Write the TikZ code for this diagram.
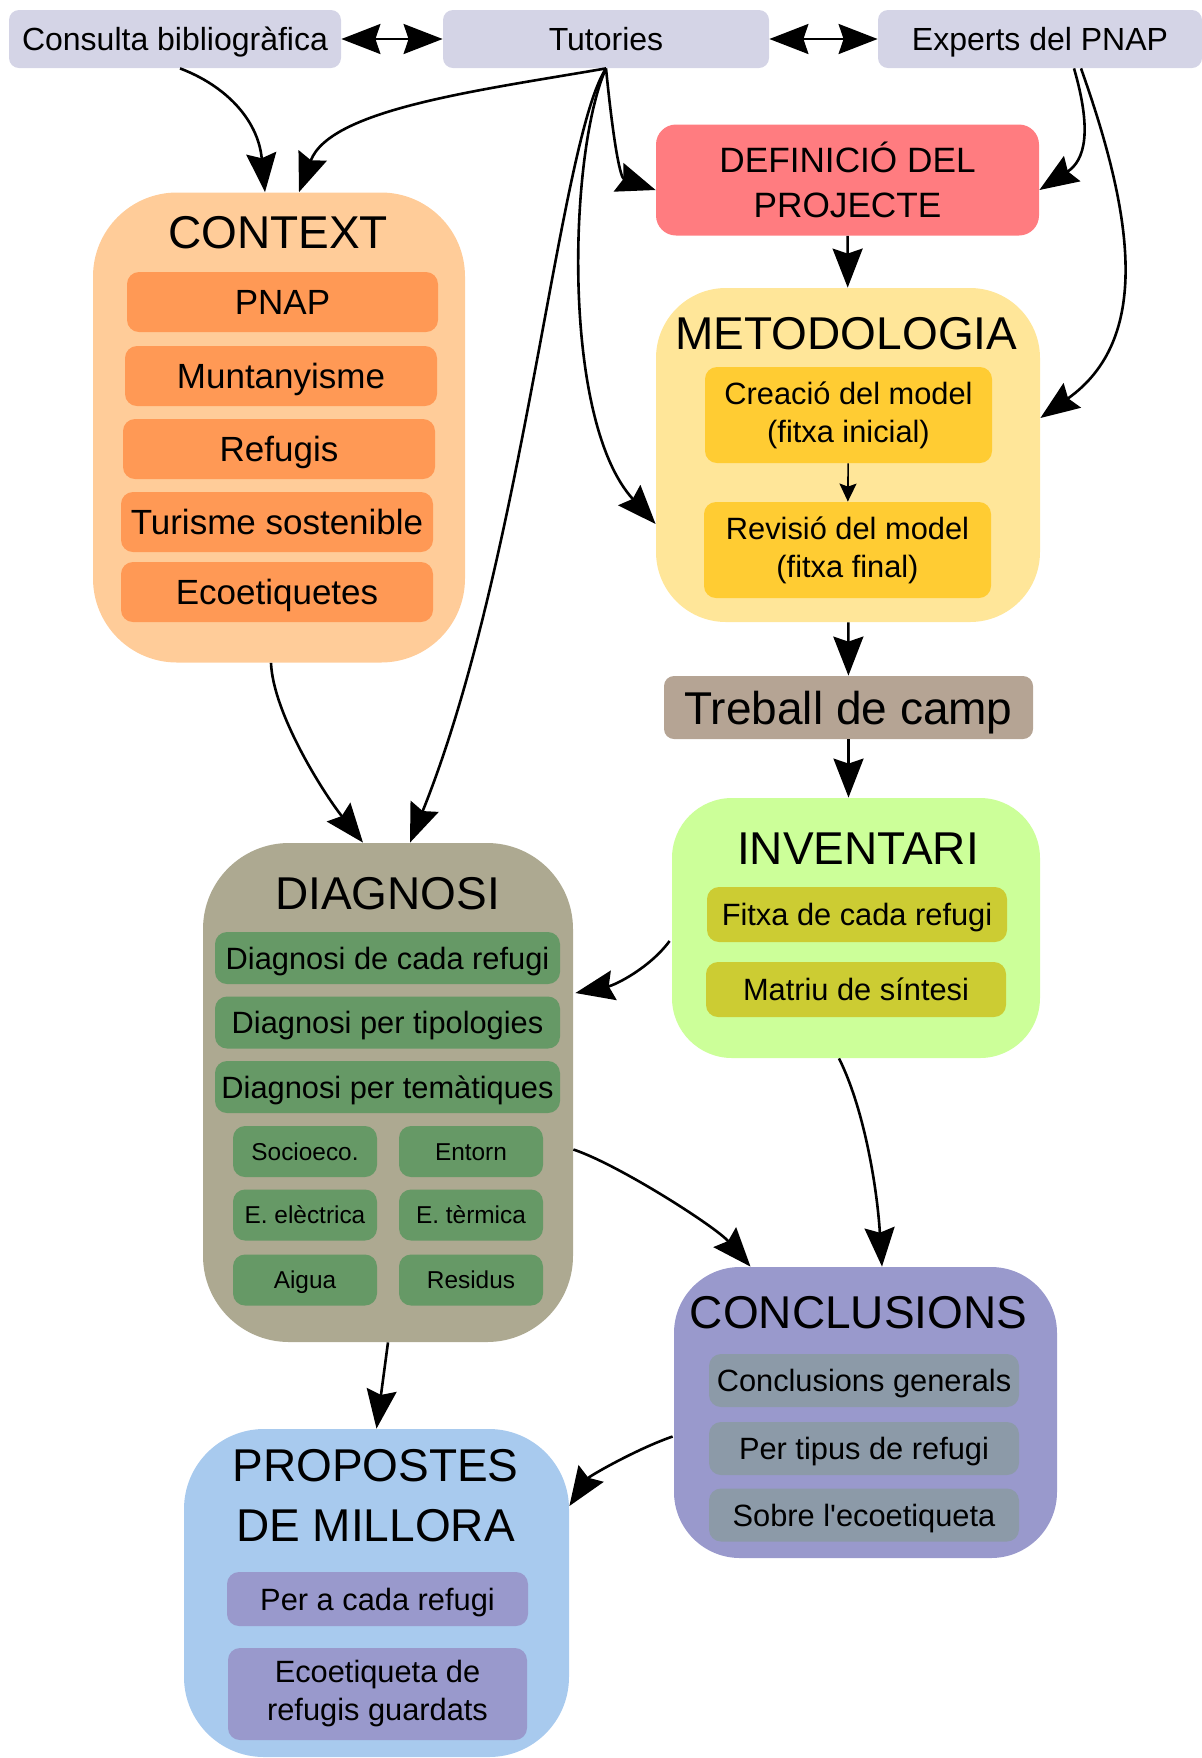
\documentclass[tikz,border=0pt]{standalone}
\usepackage{fontspec}
\setmainfont{Liberation Sans}
\usepackage{tikz}
\usetikzlibrary{arrows.meta,calc}
\usepackage{xcolor}

\definecolor{topgray}{RGB}{212,212,230}
\definecolor{defred}{RGB}{255,124,128}
\definecolor{ctxbg}{RGB}{255,204,153}
\definecolor{ctxitem}{RGB}{255,153,85}
\definecolor{metobg}{RGB}{255,230,153}
\definecolor{metoitem}{RGB}{255,204,51}
\definecolor{trebbrown}{RGB}{181,164,148}
\definecolor{invbg}{RGB}{204,255,153}
\definecolor{invitem}{RGB}{204,204,51}
\definecolor{diagbg}{RGB}{173,169,145}
\definecolor{diagitem}{RGB}{102,153,102}
\definecolor{concbg}{RGB}{153,153,204}
\definecolor{concitem}{RGB}{140,154,168}
\definecolor{propbg}{RGB}{168,202,238}
\definecolor{propitem}{RGB}{153,153,204}

\begin{document}
\begin{tikzpicture}[x=0.5pt, y=-0.5pt,
  topbox/.style={fill=topgray, rounded corners=5pt, minimum height=29pt, inner sep=1pt,
    text height=12.5pt, text depth=1pt, font=\fontsize{16}{19}\selectfont},
  groupbox/.style={inner sep=0pt},
  grouptitle/.style={anchor=base, font=\fontsize{23}{30}\selectfont},
  itembox/.style={rounded corners=6pt, inner sep=1pt, text height=12pt, text depth=1pt,
    font=\fontsize{15.4}{19}\selectfont},
  bigitembox/.style={itembox, text height=13.5pt, font=\fontsize{17.5}{21}\selectfont},
  smallitembox/.style={itembox, text height=9.5pt, text depth=0.8pt, font=\fontsize{12.2}{15}\selectfont},
  twolinebox/.style={rounded corners=6pt, inner sep=1pt, align=center, font=\fontsize{15.4}{19}\selectfont},
  flow/.style={-{Stealth[length=19.5pt,width=15pt,inset=2.5pt]}, line width=1.3pt},
  twoway/.style={{Stealth[length=19.5pt,width=15pt,inset=2.5pt]}-{Stealth[length=19.5pt,width=15pt,inset=2.5pt]}, line width=1.3pt},
  smallflow/.style={-{Stealth[length=9pt,width=8.5pt,inset=1.5pt]}, line width=0.8pt}]
  \useasboundingbox (0,0) rectangle (1202,1758);

  % Sources on top
  \node[topbox, minimum width=166pt] (cons) at (175,39) {Consulta bibliogràfica};
  \node[topbox, minimum width=163pt] (tut) at (606,39) {Tutories};
  \node[topbox, minimum width=162pt] (exp) at (1040,39) {Experts del PNAP};

  % Definició del projecte
  \node[fill=defred, rounded corners=10pt, minimum width=191.5pt, minimum height=55.5pt,
    align=center, font=\fontsize{17.6}{22.5}\selectfont] (def) at (847.5,180) {DEFINICIÓ DEL\\PROJECTE};

  % Context
  \node[groupbox, fill=ctxbg, rounded corners=42pt, minimum width=186pt, minimum height=235pt] (ctx) at (279,427.5) {};
  \node[grouptitle] (ctx-title) at (278,248) {CONTEXT};
  \node[bigitembox, fill=ctxitem, minimum width=155.5pt, minimum height=30pt] (ctx-pnap) at (282.5,302) {PNAP};
  \node[bigitembox, fill=ctxitem, minimum width=156pt, minimum height=30pt] (ctx-munt) at (281,376) {Muntanyisme};
  \node[bigitembox, fill=ctxitem, minimum width=156pt, minimum height=30pt] (ctx-ref) at (279,449) {Refugis};
  \node[bigitembox, fill=ctxitem, minimum width=156pt, minimum height=30pt] (ctx-tur) at (277,522) {Turisme sostenible};
  \node[bigitembox, fill=ctxitem, minimum width=156pt, minimum height=30pt] (ctx-eco) at (277,592) {Ecoetiquetes};

  % Metodologia
  \node[groupbox, fill=metobg, rounded corners=35pt, minimum width=192pt, minimum height=167pt] (meto) at (848,455) {};
  \node[grouptitle] (meto-title) at (846.5,349) {METODOLOGIA};
  \node[twolinebox, fill=metoitem, minimum width=143.5pt, minimum height=48pt] (crea) at (848.5,415) {Creació del model\\(fitxa inicial)};
  \node[twolinebox, fill=metoitem, minimum width=143.5pt, minimum height=48pt] (revi) at (847.5,550) {Revisió del model\\(fitxa final)};

  % Treball de camp
  \node[fill=trebbrown, rounded corners=5pt, minimum width=184.5pt, minimum height=31.5pt, inner sep=1pt,
    text height=17.5pt, text depth=1pt, font=\fontsize{23}{28}\selectfont] (treb) at (848.5,707.5) {Treball de camp};

  % Inventari
  \node[groupbox, fill=invbg, rounded corners=30pt, minimum width=184pt, minimum height=130pt] (inv) at (856,928) {};
  \node[grouptitle] (inv-title) at (858,864) {INVENTARI};
  \node[itembox, fill=invitem, minimum width=150pt, minimum height=27.5pt] (inv-fitxa) at (857,914.5) {Fitxa de cada refugi};
  \node[itembox, fill=invitem, minimum width=150pt, minimum height=27.5pt] (inv-matriu) at (856,989.5) {Matriu de síntesi};

  % Diagnosi
  \node[groupbox, fill=diagbg, rounded corners=43pt, minimum width=185pt, minimum height=249.5pt] (diag) at (388,1092.5) {};
  \node[grouptitle] (diag-title) at (387.5,909) {DIAGNOSI};
  \node[itembox, fill=diagitem, minimum width=172.5pt, minimum height=26pt] (diag-ref) at (387.5,958) {Diagnosi de cada refugi};
  \node[itembox, fill=diagitem, minimum width=172.5pt, minimum height=26pt] (diag-tip) at (387.5,1022.5) {Diagnosi per tipologies};
  \node[itembox, fill=diagitem, minimum width=172.5pt, minimum height=26pt] (diag-tem) at (387.5,1087) {Diagnosi per temàtiques};
  \node[smallitembox, fill=diagitem, minimum width=72pt, minimum height=25.5pt] (diag-soc) at (305,1151.5) {Socioeco.};
  \node[smallitembox, fill=diagitem, minimum width=72pt, minimum height=25.5pt] (diag-ent) at (471,1151.5) {Entorn};
  \node[smallitembox, fill=diagitem, minimum width=72pt, minimum height=25.5pt] (diag-ele) at (305,1215) {E. elèctrica};
  \node[smallitembox, fill=diagitem, minimum width=72pt, minimum height=25.5pt] (diag-ter) at (471,1215) {E. tèrmica};
  \node[smallitembox, fill=diagitem, minimum width=72pt, minimum height=25.5pt] (diag-aig) at (305,1280) {Aigua};
  \node[smallitembox, fill=diagitem, minimum width=72pt, minimum height=25.5pt] (diag-res) at (471,1280) {Residus};

  % Conclusions
  \node[groupbox, fill=concbg, rounded corners=33pt, minimum width=191.5pt, minimum height=145.5pt] (conc) at (865.5,1412.5) {};
  \node[grouptitle] (conc-title) at (858.5,1328) {CONCLUSIONS};
  \node[itembox, fill=concitem, minimum width=155pt, minimum height=26.5pt] (conc-gen) at (864,1380.5) {Conclusions generals};
  \node[itembox, fill=concitem, minimum width=155pt, minimum height=26.5pt] (conc-tip) at (864,1448.5) {Per tipus de refugi};
  \node[itembox, fill=concitem, minimum width=155pt, minimum height=26.5pt] (conc-eco) at (864,1515) {Sobre l\textquotesingle ecoetiqueta};

  % Propostes de millora
  \node[groupbox, fill=propbg, rounded corners=40pt, minimum width=192.5pt, minimum height=164pt] (prop) at (376.5,1593) {};
  \node[align=center, font=\fontsize{23}{30}\selectfont] (prop-title) at (375.5,1496) {PROPOSTES\\DE MILLORA};
  \node[itembox, fill=propitem, minimum width=150.5pt, minimum height=27pt] (prop-ref) at (377.5,1599) {Per a cada refugi};
  \node[twolinebox, fill=propitem, minimum width=149.5pt, minimum height=46pt] (prop-eco) at (377.5,1694) {Ecoetiqueta de\\refugis guardats};

  % Arrows from the sources
  \draw[twoway] (cons.east) -- (tut.west);
  \draw[twoway] (tut.east) -- (exp.west);
  \draw[flow] ($(cons.south)+(5,0)$) .. controls +(45,17) and +(-7,-73) .. ($(ctx.north)+(-14,0)$);
  \draw[flow] (tut.south) .. controls +(-127,22) and +(31,-83) .. ($(ctx.north)+(20,0)$);
  \draw[flow] (tut.south) .. controls +(8,80) and +(-35,-12) .. ($(def.west)+(0,10)$);
  \draw[flow] (tut.south) .. controls +(-37,82) and +(-95,-104) .. ($(meto.west)+(0,69)$);
  \draw[flow] (tut.south) .. controls +(-47,72) and +(114,-283) .. ($(diag.north)+(22,0)$);
  \draw[flow] ($(exp.south)+(34,0)$) .. controls +(18,62) and +(46,-30) .. ($(def.east)+(0,10)$);
  \draw[flow] ($(exp.south)+(41,0)$) .. controls +(54,152) and +(110,-78) .. ($(meto.east)+(0,-37)$);

  % Main column
  \draw[flow] (def) -- (meto);
  \draw[smallflow] (crea) -- (revi);
  \draw[flow] (meto) -- (treb);
  \draw[flow] (treb.south) -- (treb.south |- inv.north);

  % Towards diagnosi, conclusions and propostes
  \draw[flow] ($(ctx.south)+(-8,0)$) .. controls +(2,50) and +(-40,-50) .. ($(diag.north)+(-25,0)$);
  \draw[flow] ($(inv.west)+(-2,13)$) .. controls +(-20,27) and +(40,-8) .. ($(diag.east)+(2,-99.5)$);
  \draw[flow] ($(inv.south)+(-17,0)$) .. controls +(25,50) and +(-5,-80) .. ($(conc.north)+(16.5,0)$);
  \draw[flow] ($(diag.east)+(0,57)$) .. controls +(45,15) and +(-35,-40) .. ($(conc.north)+(-115,0)$);
  \draw[flow] (diag.south) -- (prop.north);
  \draw[flow] ($(conc.west)+(-1,24)$) .. controls +(-35,12) and +(20,-30) .. ($(prop.east)+(0,-87)$);
\end{tikzpicture}
\end{document}
